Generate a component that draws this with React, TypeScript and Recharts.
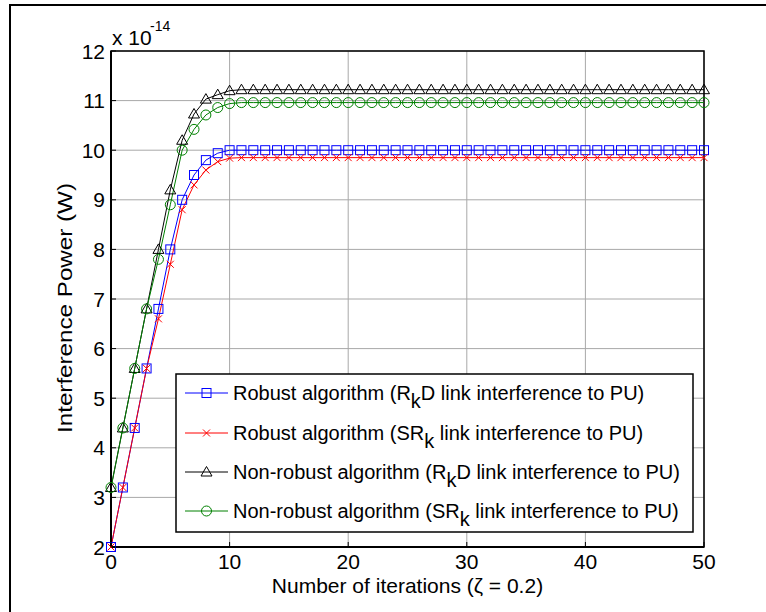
import React from 'react';
import { LineChart, Line, XAxis, YAxis, CartesianGrid, ReferenceArea, Label } from 'recharts';

const iterations = [
  0, 1, 2, 3, 4, 5, 6, 7, 8, 9,
  10, 11, 12, 13, 14, 15, 16, 17, 18, 19,
  20, 21, 22, 23, 24, 25, 26, 27, 28, 29,
  30, 31, 32, 33, 34, 35, 36, 37, 38, 39,
  40, 41, 42, 43, 44, 45, 46, 47, 48, 49,
  50,
];

const robustRkD = [
  2, 3.2, 4.4, 5.6, 6.8, 8.0, 9.0, 9.5, 9.8, 9.94,
  10.0, 10.0, 10.0, 10.0, 10.0, 10.0, 10.0, 10.0, 10.0, 10.0,
  10.0, 10.0, 10.0, 10.0, 10.0, 10.0, 10.0, 10.0, 10.0, 10.0,
  10.0, 10.0, 10.0, 10.0, 10.0, 10.0, 10.0, 10.0, 10.0, 10.0,
  10.0, 10.0, 10.0, 10.0, 10.0, 10.0, 10.0, 10.0, 10.0, 10.0,
  10.0,
];

const robustSRk = [
  2, 3.2, 4.4, 5.6, 6.6, 7.7, 8.8, 9.3, 9.6, 9.77,
  9.84, 9.85, 9.85, 9.85, 9.85, 9.85, 9.85, 9.85, 9.85, 9.85,
  9.85, 9.85, 9.85, 9.85, 9.85, 9.85, 9.85, 9.85, 9.85, 9.85,
  9.85, 9.85, 9.85, 9.85, 9.85, 9.85, 9.85, 9.85, 9.85, 9.85,
  9.85, 9.85, 9.85, 9.85, 9.85, 9.85, 9.85, 9.85, 9.85, 9.85,
  9.85,
];

const nonRobustRkD = [
  3.2, 4.4, 5.6, 6.8, 8.0, 9.2, 10.2, 10.73, 11.03, 11.12,
  11.2, 11.22, 11.22, 11.22, 11.22, 11.22, 11.22, 11.22, 11.22, 11.22,
  11.22, 11.22, 11.22, 11.22, 11.22, 11.22, 11.22, 11.22, 11.22, 11.22,
  11.22, 11.22, 11.22, 11.22, 11.22, 11.22, 11.22, 11.22, 11.22, 11.22,
  11.22, 11.22, 11.22, 11.22, 11.22, 11.22, 11.22, 11.22, 11.22, 11.22,
  11.22,
];

const nonRobustSRk = [
  3.2, 4.4, 5.6, 6.8, 7.8, 8.9, 10.0, 10.42, 10.71, 10.86,
  10.94, 10.96, 10.96, 10.96, 10.96, 10.96, 10.96, 10.96, 10.96, 10.96,
  10.96, 10.96, 10.96, 10.96, 10.96, 10.96, 10.96, 10.96, 10.96, 10.96,
  10.96, 10.96, 10.96, 10.96, 10.96, 10.96, 10.96, 10.96, 10.96, 10.96,
  10.96, 10.96, 10.96, 10.96, 10.96, 10.96, 10.96, 10.96, 10.96, 10.96,
  10.96,
];

const xTicks = [0, 10, 20, 30, 40, 50];
const yTicks = [2, 3, 4, 5, 6, 7, 8, 9, 10, 11, 12];

const xLabel = 'Number of iterations (\u03B6 = 0.2)';
const yLabel = 'Interference Power (W)';
const scaleBase = 'x 10';
const scaleExp = '-14';

type Shape = 'square' | 'x' | 'triangle' | 'circle';

const seriesInfo: { key: string; color: string; shape: Shape; name: [string, string, string] }[] = [
  { key: 'robustRkD', color: '#0000ff', shape: 'square', name: ['Robust algorithm (R', 'k', 'D link interference to PU)'] },
  { key: 'robustSRk', color: '#ff0000', shape: 'x', name: ['Robust algorithm (SR', 'k', ' link interference to PU)'] },
  { key: 'nonRobustRkD', color: '#000000', shape: 'triangle', name: ['Non-robust algorithm (R', 'k', 'D link interference to PU)'] },
  { key: 'nonRobustSRk', color: '#008000', shape: 'circle', name: ['Non-robust algorithm (SR', 'k', ' link interference to PU)'] },
];

const data = iterations.map((it, i) => ({
  it,
  robustRkD: robustRkD[i],
  robustSRk: robustSRk[i],
  nonRobustRkD: nonRobustRkD[i],
  nonRobustSRk: nonRobustSRk[i],
}));

const FONT = '"Liberation Sans", Arial, Helvetica, sans-serif';

function Marker({ shape, color, cx, cy }: { shape: Shape; color: string; cx: number; cy: number }) {
  if (cx == null || cy == null || isNaN(cx) || isNaN(cy)) return null;
  if (shape === 'square') {
    return <rect x={cx - 4.5} y={cy - 4.5} width={9} height={9} fill="none" stroke={color} strokeWidth={1} />;
  }
  if (shape === 'x') {
    return (
      <g stroke={color} strokeWidth={1}>
        <line x1={cx - 3.5} y1={cy - 3.5} x2={cx + 3.5} y2={cy + 3.5} />
        <line x1={cx - 3.5} y1={cy + 3.5} x2={cx + 3.5} y2={cy - 3.5} />
      </g>
    );
  }
  if (shape === 'triangle') {
    return (
      <polygon
        points={`${cx},${cy - 5.5} ${cx - 5.5},${cy + 4} ${cx + 5.5},${cy + 4}`}
        fill="none"
        stroke={color}
        strokeWidth={1}
      />
    );
  }
  return <circle cx={cx} cy={cy} r={5} fill="none" stroke={color} strokeWidth={1} />;
}

const LeftTick = (props: any) => {
  const { x, y, payload } = props;
  return (
    <g>
      <line x1={x + 6} y1={y} x2={x + 11} y2={y} stroke="#000" strokeWidth={1} />
      <text x={x} y={y + 7.5} textAnchor="end" fontFamily={FONT} fontSize={21} fill="#000">
        {payload.value}
      </text>
    </g>
  );
};

const BottomTick = (props: any) => {
  const { x, y, payload } = props;
  return (
    <g>
      <line x1={x} y1={y - 6} x2={x} y2={y - 11} stroke="#000" strokeWidth={1} />
      <text x={x} y={y + 16} textAnchor="middle" fontFamily={FONT} fontSize={21} fill="#000">
        {payload.value}
      </text>
    </g>
  );
};

const TopTick = (props: any) => {
  const { x, y } = props;
  return <line x1={x} y1={y} x2={x} y2={y + 5} stroke="#000" strokeWidth={1} />;
};

const RightTick = (props: any) => {
  const { x, y } = props;
  return <line x1={x - 5} y1={y} x2={x} y2={y} stroke="#000" strokeWidth={1} />;
};

export default function App() {
  const legendLeft = 176;
  const legendTop = 374;
  const legendW = 517;
  const legendH = 158;
  const rowY = [19, 59, 98, 137];

  return (
    <div style={{ position: 'absolute', left: 0, top: 0, width: 766, height: 612, background: '#fff' }}>
      <LineChart
        width={766}
        height={612}
        data={data}
        margin={{ top: 51, right: 62, bottom: 0, left: 0 }}
      >
        <CartesianGrid stroke="#a8a8a8" strokeWidth={1} horizontalValues={yTicks} verticalValues={xTicks} />
        <XAxis
          dataKey="it"
          type="number"
          domain={[0, 50]}
          ticks={xTicks}
          height={65}
          tickSize={0}
          tickMargin={6}
          tickLine={false}
          axisLine={{ stroke: '#000', strokeWidth: 2 }}
          tick={<BottomTick />}
          interval={0}
        >
          <Label
            content={(p: any) => {
              const vb = p.viewBox || { x: 111, y: 547, width: 593, height: 65 };
              return (
                <text x={vb.x + vb.width / 2} y={vb.y + 46} textAnchor="middle" fontFamily={FONT} fontSize={21} fill="#000">
                  {xLabel}
                </text>
              );
            }}
          />
        </XAxis>
        <XAxis
          xAxisId="top"
          dataKey="it"
          type="number"
          orientation="top"
          domain={[0, 50]}
          ticks={xTicks}
          height={0}
          tickSize={0}
          tickMargin={0}
          tickLine={false}
          axisLine={false}
          tick={<TopTick />}
          interval={0}
        />
        <YAxis
          type="number"
          domain={[2, 12]}
          ticks={yTicks}
          width={111}
          tickSize={0}
          tickMargin={6}
          tickLine={false}
          axisLine={{ stroke: '#000', strokeWidth: 2 }}
          tick={<LeftTick />}
          interval={0}
        >
          <Label
            content={(p: any) => {
              const vb = p.viewBox || { x: 0, y: 51, width: 111, height: 496 };
              const cx = vb.x + vb.width - 39;
              const cy = vb.y + vb.height / 2 + 9;
              return (
                <text
                  x={cx}
                  y={cy}
                  transform={`rotate(-90 ${cx} ${cy})`}
                  textAnchor="middle"
                  fontFamily={FONT}
                  fontSize={21}
                  textLength={250}
                  lengthAdjust="spacingAndGlyphs"
                  fill="#000"
                >
                  {yLabel}
                </text>
              );
            }}
          />
        </YAxis>
        <YAxis
          yAxisId="right"
          type="number"
          orientation="right"
          domain={[2, 12]}
          ticks={yTicks}
          width={0}
          tickSize={0}
          tickMargin={0}
          tickLine={false}
          axisLine={false}
          tick={<RightTick />}
          interval={0}
        />
        <ReferenceArea x1={0} x2={50} y1={2} y2={12} fill="none" stroke="#000" strokeWidth={1.5} ifOverflow="visible" />
        {seriesInfo.map((s) => (
          <Line
            key={s.key}
            dataKey={s.key}
            type="linear"
            stroke={s.color}
            strokeWidth={1}
            isAnimationActive={false}
            dot={(p: any) => <Marker key={`${s.key}-${p.index}`} shape={s.shape} color={s.color} cx={p.cx} cy={p.cy} />}
            activeDot={false}
          />
        ))}
      </LineChart>
      <svg
        width={766}
        height={612}
        style={{ position: 'absolute', left: 0, top: 0, pointerEvents: 'none' }}
      >
        <line x1={10} y1={5} x2={766} y2={5} stroke="#000" strokeWidth={2} />
        <line x1={10} y1={4} x2={10} y2={612} stroke="#000" strokeWidth={2} />
        <text x={112} y={45} fontFamily={FONT} fontSize={21} fill="#000">
          {scaleBase}
        </text>
        <text x={150} y={31} fontFamily={FONT} fontSize={14} fill="#000">
          {scaleExp}
        </text>
        <g transform={`translate(${legendLeft},${legendTop})`}>
          <rect x={0} y={0} width={legendW} height={legendH} fill="#fff" stroke="#000" strokeWidth={1.5} />
          {seriesInfo.map((s, i) => (
            <g key={s.key}>
              <line x1={9} y1={rowY[i]} x2={52} y2={rowY[i]} stroke={s.color} strokeWidth={1} />
              <Marker shape={s.shape} color={s.color} cx={30.5} cy={rowY[i]} />
              <text x={57} y={rowY[i] + 7} fontFamily={FONT} fontSize={20} fill="#000">
                {s.name[0]}
                <tspan dy={8}>{s.name[1]}</tspan>
                <tspan dy={-8}>{s.name[2]}</tspan>
              </text>
            </g>
          ))}
        </g>
      </svg>
    </div>
  );
}
